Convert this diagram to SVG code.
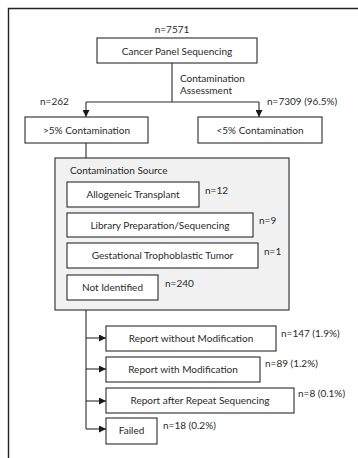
<svg xmlns="http://www.w3.org/2000/svg" width="358" height="458" viewBox="0 0 358 458">
<defs>
<marker id="ah" viewBox="0 0 10 10" refX="10" refY="5" markerWidth="7" markerHeight="7" markerUnits="userSpaceOnUse" orient="auto">
<path d="M0,0 L10,5 L0,10 z" fill="#1a1a1a"/>
</marker>
<style>
.t{font-family:Lato,"Liberation Sans",sans-serif;font-size:10px;fill:#2a2a2a}
.b{fill:#fff;stroke:#2a2a2a;stroke-width:1.1}
.c{fill:none;stroke:#2a2a2a;stroke-width:1.1}
</style>
</defs>
<rect width="358" height="458" fill="#fff"/>
<path d="M8.5,458 V8.5 H358" fill="none" stroke="#222" stroke-width="1.4"/>
<g id="connectors">
<path class="c" d="M172,63 V102"/>
<path class="c" d="M86,102 H259"/>
<path class="c" d="M86,102 V117" marker-end="url(#ah)"/>
<path class="c" d="M259,102 V117" marker-end="url(#ah)"/>
<path class="c" d="M86,143 V158"/>
<path class="c" d="M86,310 V429"/>
<path class="c" d="M86,338 H106" marker-end="url(#ah)"/>
<path class="c" d="M86,369 H106" marker-end="url(#ah)"/>
<path class="c" d="M86,401 H106" marker-end="url(#ah)"/>
<path class="c" d="M86,429 H106" marker-end="url(#ah)"/>
</g>
<g id="n_cancer">
<text class="t" x="172" y="33" text-anchor="middle">n=7571</text>
<rect class="b" x="97" y="38" width="160" height="25"/>
<text class="t" x="177" y="55" text-anchor="middle">Cancer Panel Sequencing</text>
</g>
<g id="l_assess">
<text class="t" x="180" y="82">Contamination</text>
<text class="t" x="180" y="94">Assessment</text>
</g>
<g id="n_gt5">
<text class="t" x="40" y="105">n=262</text>
<rect class="b" x="25" y="117" width="123" height="26"/>
<text class="t" x="86.5" y="133.5" text-anchor="middle">&gt;5% Contamination</text>
</g>
<g id="n_lt5">
<text class="t" x="267" y="105">n=7309 (96.5%)</text>
<rect class="b" x="198" y="117" width="124" height="26"/>
<text class="t" x="260" y="133.5" text-anchor="middle">&lt;5% Contamination</text>
</g>
<g id="n_source">
<rect x="55" y="158" width="234" height="152" fill="#f1f1f1" stroke="#2a2a2a" stroke-width="1.1"/>
<text class="t" x="70" y="174">Contamination Source</text>
</g>
<g id="n_allo">
<rect class="b" x="67" y="182" width="132" height="25"/>
<text class="t" x="133" y="198" text-anchor="middle">Allogeneic Transplant</text>
<text class="t" x="205" y="194">n=12</text>
</g>
<g id="n_lib">
<rect class="b" x="67" y="213" width="186" height="24"/>
<text class="t" x="160" y="229" text-anchor="middle">Library Preparation/Sequencing</text>
<text class="t" x="259" y="224">n=9</text>
</g>
<g id="n_gest">
<rect class="b" x="67" y="243" width="191" height="25"/>
<text class="t" x="162.5" y="259" text-anchor="middle">Gestational Trophoblastic Tumor</text>
<text class="t" x="264" y="255">n=1</text>
</g>
<g id="n_notid">
<rect class="b" x="67" y="275" width="91" height="25"/>
<text class="t" x="112.5" y="291" text-anchor="middle">Not Identified</text>
<text class="t" x="165" y="287">n=240</text>
</g>
<g id="n_rwo">
<rect class="b" x="106" y="326" width="170" height="25"/>
<text class="t" x="191" y="342" text-anchor="middle">Report without Modification</text>
<text class="t" x="281" y="337">n=147 (1.9%)</text>
</g>
<g id="n_rw">
<rect class="b" x="106" y="357" width="154" height="25"/>
<text class="t" x="183" y="373" text-anchor="middle">Report with Modification</text>
<text class="t" x="265" y="367">n=89 (1.2%)</text>
</g>
<g id="n_rr">
<rect class="b" x="106" y="388" width="188" height="25"/>
<text class="t" x="200" y="404" text-anchor="middle">Report after Repeat Sequencing</text>
<text class="t" x="298" y="397">n=8 (0.1%)</text>
</g>
<g id="n_fail">
<rect class="b" x="106" y="418" width="51" height="26"/>
<text class="t" x="131.5" y="434" text-anchor="middle">Failed</text>
<text class="t" x="163" y="429">n=18 (0.2%)</text>
</g>
</svg>
